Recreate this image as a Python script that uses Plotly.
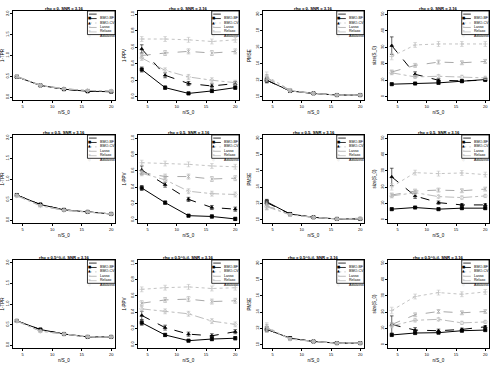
import plotly.graph_objects as go

# x positions (n/S_0) and method names
x_vals = [4, 8, 12, 16, 20]
methods = ["BMO-BF", "BMO-CV", "Lasso", "Relaxo", "Adalasso"]

row_titles = ["rho = 0, SNR = 3.16", "rho = 0.5, SNR = 3.16", "rho = 0.5^|i-j|, SNR = 3.16"]
x_label = "n/S_0"
y_labels = ["1-TPR", "1-PPV", "PMSE", "size(S_0)"]
y_ticks = [[0, 0.5, 1, 1.5, 2], [0, 0.2, 0.4, 0.6, 0.8, 1], [10, 12, 14, 16, 18, 20], [0, 10, 20, 30, 40, 50]]

# ---- values (means) ----
c1_r1 = {"BMO-BF": [0.49, 0.28, 0.19, 0.14, 0.13], "BMO-CV": [0.49, 0.28, 0.19, 0.14, 0.13],
         "Lasso": [0.50, 0.28, 0.20, 0.16, 0.145], "Relaxo": [0.50, 0.29, 0.20, 0.16, 0.145],
         "Adalasso": [0.49, 0.28, 0.20, 0.16, 0.145]}
c1_r2 = {"BMO-BF": [0.61, 0.38, 0.25, 0.20, 0.15], "BMO-CV": [0.61, 0.38, 0.25, 0.20, 0.15],
         "Lasso": [0.60, 0.35, 0.24, 0.20, 0.15], "Relaxo": [0.60, 0.35, 0.24, 0.20, 0.15],
         "Adalasso": [0.59, 0.35, 0.24, 0.20, 0.15]}
c1_r3 = {"BMO-BF": [0.59, 0.38, 0.27, 0.20, 0.20], "BMO-CV": [0.59, 0.38, 0.27, 0.20, 0.20],
         "Lasso": [0.59, 0.34, 0.27, 0.20, 0.20], "Relaxo": [0.59, 0.34, 0.27, 0.21, 0.20],
         "Adalasso": [0.58, 0.34, 0.27, 0.20, 0.20]}

c2_r1 = {"BMO-BF": [0.33, 0.11, 0.04, 0.07, 0.11], "BMO-CV": [0.58, 0.26, 0.16, 0.13, 0.16],
         "Lasso": [0.70, 0.70, 0.69, 0.67, 0.69], "Relaxo": [0.50, 0.53, 0.55, 0.53, 0.55],
         "Adalasso": [0.47, 0.32, 0.24, 0.20, 0.17]}
c2_r2 = {"BMO-BF": [0.39, 0.21, 0.05, 0.04, 0.01], "BMO-CV": [0.61, 0.43, 0.25, 0.15, 0.13],
         "Lasso": [0.70, 0.69, 0.68, 0.66, 0.65], "Relaxo": [0.58, 0.53, 0.53, 0.50, 0.51],
         "Adalasso": [0.57, 0.49, 0.35, 0.32, 0.31]}
c2_r3 = {"BMO-BF": [0.27, 0.12, 0.05, 0.07, 0.08], "BMO-CV": [0.36, 0.21, 0.13, 0.11, 0.16],
         "Lasso": [0.68, 0.70, 0.71, 0.69, 0.70], "Relaxo": [0.51, 0.55, 0.56, 0.53, 0.54],
         "Adalasso": [0.44, 0.41, 0.38, 0.29, 0.25]}

c3_r1 = {"BMO-BF": [12.0, 10.7, 10.4, 10.2, 10.2], "BMO-CV": [12.0, 10.7, 10.4, 10.2, 10.2],
         "Lasso": [12.5, 10.8, 10.4, 10.2, 10.2], "Relaxo": [12.3, 10.8, 10.4, 10.2, 10.2],
         "Adalasso": [12.2, 10.7, 10.4, 10.2, 10.2]}
c3_r2 = {"BMO-BF": [12.2, 10.7, 10.3, 10.1, 10.1], "BMO-CV": [12.1, 10.7, 10.3, 10.1, 10.1],
         "Lasso": [11.8, 10.6, 10.3, 10.1, 10.1], "Relaxo": [11.7, 10.6, 10.3, 10.1, 10.1],
         "Adalasso": [11.6, 10.6, 10.3, 10.1, 10.2]}
c3_r3 = {"BMO-BF": [11.9, 10.8, 10.4, 10.2, 10.2], "BMO-CV": [11.9, 10.8, 10.4, 10.2, 10.2],
         "Lasso": [12.2, 10.7, 10.4, 10.2, 10.2], "Relaxo": [12.1, 10.7, 10.4, 10.2, 10.2],
         "Adalasso": [12.0, 10.7, 10.4, 10.2, 10.2]}

c4_r1 = {"BMO-BF": [7.6, 8.0, 8.4, 9.4, 10.4], "BMO-CV": [31.0, 13.6, 10.0, 9.6, 10.0],
         "Lasso": [24.4, 31.4, 32.0, 32.0, 32.0], "Relaxo": [15.0, 19.0, 21.0, 20.6, 21.4],
         "Adalasso": [14.5, 12.0, 12.4, 12.0, 11.4]}
c4_r2 = {"BMO-BF": [6.5, 7.5, 6.5, 7.1, 7.1], "BMO-CV": [26.3, 14.6, 10.5, 9.1, 9.1],
         "Lasso": [20.2, 28.9, 28.3, 28.7, 27.7], "Relaxo": [15.2, 17.6, 18.2, 17.8, 18.8],
         "Adalasso": [14.6, 16.6, 14.2, 13.6, 14.6]}
c4_r3 = {"BMO-BF": [6.0, 7.2, 7.4, 8.6, 9.0], "BMO-CV": [12.4, 9.0, 8.6, 9.4, 11.0],
         "Lasso": [21.0, 29.6, 32.0, 31.0, 32.4], "Relaxo": [12.4, 18.4, 20.4, 19.6, 20.4],
         "Adalasso": [11.6, 15.0, 15.6, 13.4, 14.0]}

# ---- error bar half-widths ----
e1 = {"BMO-BF": [0.03, 0.02, 0.015, 0.015, 0.015], "BMO-CV": [0.03, 0.02, 0.015, 0.015, 0.015],
      "Lasso": [0.03, 0.02, 0.015, 0.015, 0.015], "Relaxo": [0.03, 0.02, 0.015, 0.015, 0.015],
      "Adalasso": [0.03, 0.02, 0.015, 0.015, 0.015]}
e2 = {"BMO-BF": [0.03, 0.02, 0.015, 0.02, 0.02], "BMO-CV": [0.05, 0.03, 0.025, 0.025, 0.025],
      "Lasso": [0.03, 0.03, 0.03, 0.03, 0.03], "Relaxo": [0.03, 0.03, 0.03, 0.03, 0.03],
      "Adalasso": [0.03, 0.03, 0.03, 0.03, 0.03]}
e3 = {"BMO-BF": [0.3, 0.15, 0.1, 0.08, 0.08], "BMO-CV": [0.3, 0.15, 0.1, 0.08, 0.08],
      "Lasso": [0.5, 0.15, 0.1, 0.08, 0.08], "Relaxo": [0.4, 0.15, 0.1, 0.08, 0.08],
      "Adalasso": [0.4, 0.15, 0.1, 0.08, 0.08]}
e4 = {"BMO-BF": [0.6, 0.6, 0.6, 0.6, 0.6], "BMO-CV": [5.3, 1.5, 1.0, 0.8, 0.8],
      "Lasso": [2.0, 1.5, 1.5, 1.5, 1.5], "Relaxo": [1.2, 1.2, 1.2, 1.2, 1.2],
      "Adalasso": [1.2, 1.0, 1.0, 1.0, 1.0]}

panels = [[c1_r1, c2_r1, c3_r1, c4_r1], [c1_r2, c2_r2, c3_r2, c4_r2], [c1_r3, c2_r3, c3_r3, c4_r3]]
errors = [e1, e2, e3, e4]
y_ranges = [[-0.07, 2.07], [-0.04, 1.04], [9.6, 20.4], [-2, 52]]

styles = {
    "BMO-BF": dict(color="black", dash="solid", symbol="square", glyph="\u25a0"),
    "BMO-CV": dict(color="black", dash="dash", symbol="triangle-up", glyph="\u25b2"),
    "Lasso": dict(color="#c4c4c4", dash="dot", symbol="cross-thin-open", glyph="+"),
    "Relaxo": dict(color="#a8a8a8", dash="dash", symbol="x-thin-open", glyph="\u00d7"),
    "Adalasso": dict(color="#bcbcbc", dash="dashdot", symbol="diamond-open", glyph="\u25c7"),
}

W, H = 491, 366
col_px = [(13, 115), (138, 239), (263, 364), (388, 489)]
row_px = [(11, 100), (135, 223), (260, 348)]

fig = go.Figure()
shapes, annots = [], []
font = "Liberation Sans, Arial, sans-serif"

for r in range(3):
    for c in range(4):
        k = r * 4 + c + 1
        xa = "x" if k == 1 else f"x{k}"
        ya = "y" if k == 1 else f"y{k}"
        data = panels[r][c]
        err = errors[c]
        for m in methods:
            st = styles[m]
            fig.add_trace(go.Scatter(
                x=x_vals, y=data[m], xaxis=xa, yaxis=ya, mode="lines+markers", showlegend=False,
                line=dict(color=st["color"], dash=st["dash"], width=1.0),
                marker=dict(symbol=st["symbol"], size=3.2, color=st["color"],
                            line=dict(color=st["color"], width=0.7)),
                error_y=dict(type="data", array=err[m], color=st["color"], thickness=0.6, width=1.8),
            ))
        x0, x1 = col_px[c]
        y0, y1 = row_px[r]
        dom_x = [x0 / W, x1 / W]
        dom_y = [1 - y1 / H, 1 - y0 / H]
        common = dict(showline=True, linecolor="black", linewidth=0.8, mirror=True, ticks="outside",
                      ticklen=2, tickwidth=0.6, tickcolor="black", showgrid=False, zeroline=False,
                      automargin=False, tickfont=dict(size=4, family=font, color="black"))
        fig.layout[("xaxis" if k == 1 else f"xaxis{k}")] = dict(
            domain=dom_x, anchor=ya, range=[3.36, 20.64], tickvals=[5, 10, 15, 20],
            title=dict(text=x_label, font=dict(size=4.5, family=font, color="black"), standoff=3), **common)
        fig.layout[("yaxis" if k == 1 else f"yaxis{k}")] = dict(
            domain=dom_y, anchor=xa, range=y_ranges[c], tickvals=y_ticks[c], tickangle=-90,
            tickformat=".1f" if c < 2 else "d",
            title=dict(text=y_labels[c], font=dict(size=4.5, family=font, color="black"), standoff=2), **common)

        # panel title
        annots.append(dict(text="<b>" + row_titles[r] + "</b>", xref=f"{xa} domain", yref=f"{ya} domain",
                           x=0.5, y=1.0, yshift=7, showarrow=False,
                           font=dict(size=4.2, family=font, color="black")))
        # legend box (top-right)
        shapes.append(dict(type="rect", xref=f"{xa} domain", yref=f"{ya} domain", x0=0.73, x1=1.0,
                           y0=0.735, y1=1.0, line=dict(color="black", width=0.8), fillcolor="white"))
        for i, m in enumerate(methods):
            st = styles[m]
            yy = 0.965 - i * 0.05
            shapes.append(dict(type="line", xref=f"{xa} domain", yref=f"{ya} domain", x0=0.745, x1=0.82,
                               y0=yy, y1=yy, line=dict(color=st["color"], width=0.8, dash=st["dash"])))
            annots.append(dict(text=st["glyph"], xref=f"{xa} domain", yref=f"{ya} domain", x=0.782, y=yy,
                               showarrow=False, font=dict(size=3.5, color=st["color"], family="DejaVu Sans")))
            annots.append(dict(text=m, xref=f"{xa} domain", yref=f"{ya} domain", x=0.835, y=yy,
                               xanchor="left", showarrow=False,
                               font=dict(size=3.6, family=font, color="black")))

fig.update_layout(width=W, height=H, margin=dict(l=0, r=0, t=0, b=0), paper_bgcolor="white",
                  plot_bgcolor="white", shapes=shapes, annotations=annots, showlegend=False,
                  font=dict(family=font, color="black"))
# the page body has a default 8px margin; drop it so the figure sits at the window's corner
fig.write_html("out.html", post_script="document.body.style.margin='0px';",
               config={"displayModeBar": False})
